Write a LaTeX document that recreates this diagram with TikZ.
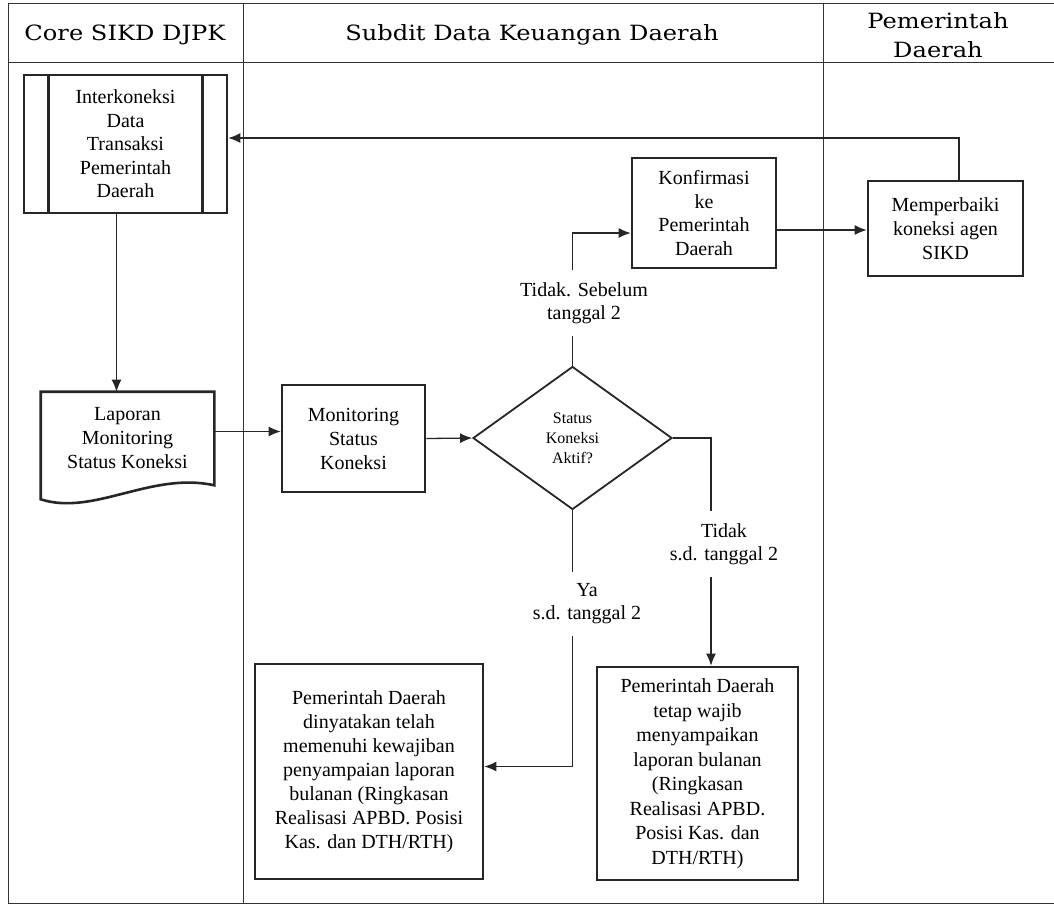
\documentclass[tikz,border=0pt]{standalone}
\usepackage{fontspec}
\setmainfont{Liberation Serif}
\newfontfamily\headfont[FakeStretch=1.15]{DejaVu Serif}
\usetikzlibrary{arrows.meta,shapes.geometric}

\begin{document}
\begin{tikzpicture}[x=1pt,y=-1pt,>={Latex[length=12pt,width=10pt]},
  lane/.style={line width=1pt,black!80},
  flow/.style={line width=1.3pt,black!85},
  box/.style={draw=black!85,line width=2.6pt,align=center,inner sep=0pt,font=\fontsize{20}{24}\selectfont},
  dia/.style={diamond,draw=black!85,line width=1.8pt,align=center,inner sep=0pt,font=\fontsize{16}{20}\selectfont},
  lbl/.style={align=center,inner xsep=0pt,inner ysep=12pt,font=\fontsize{20}{23}\selectfont},
  hdr/.style={align=center,font=\headfont\fontsize{21}{29}\selectfont}]
\useasboundingbox (0,0) rectangle (1054,906);
% lanes
\draw[lane] (1054,3) -- (8,3) -- (8,903) -- (1054,903);
\draw[lane] (8,62) -- (1054,62);
\draw[lane] (243,3) -- (243,903);
\draw[lane] (823,3) -- (823,903);
\node[hdr] (h1) at (125,35) {Core SIKD DJPK};
\node[hdr] (h2) at (532,35) {Subdit Data Keuangan Daerah};
\node[hdr] (h3) at (938,35) {Pemerintah\\Daerah};

% nodes
\node[box,minimum width=203pt,minimum height=138pt,font=\fontsize{20}{23.5}\selectfont] (inter) at (125.5,144) {Interkoneksi\\Data\\Transaksi\\Pemerintah\\Daerah};
\draw[black!85,line width=2.6pt] ([xshift=26pt]inter.north west) -- ([xshift=26pt]inter.south west);
\draw[black!85,line width=2.6pt] ([xshift=-26pt]inter.north east) -- ([xshift=-26pt]inter.south east);
\node[box,draw=none,minimum width=171pt,minimum height=91pt] (lapor) at (127.5,438.5) {Laporan\\Monitoring\\Status Koneksi};
\draw[black!85,line width=2.6pt] (lapor.south east) -- (lapor.north east) -- (lapor.north west) -- ([yshift=-14pt]lapor.south west)
  .. controls ([xshift=53pt,yshift=-31pt]lapor.south west) and ([xshift=-63pt,yshift=14pt]lapor.south east) .. (lapor.south east) -- cycle;
\node[box,minimum width=143pt,minimum height=107pt] (monit) at (353.5,438.5) {Monitoring\\Status\\Koneksi};
\node[dia,minimum width=199pt,minimum height=143pt] (dec) at (572.5,438) {Status\\Koneksi\\Aktif?};
\node[box,minimum width=144pt,minimum height=110pt,font=\fontsize{20}{23.5}\selectfont] (konf) at (704,213) {Konfirmasi\\ke\\Pemerintah\\Daerah};
\node[box,minimum width=155pt,minimum height=95pt] (perb) at (945.5,228.5) {Memperbaiki\\koneksi agen\\SIKD};
\node[box,minimum width=228pt,minimum height=215pt] (done) at (369,771.5) {Pemerintah Daerah\\dinyatakan telah\\memenuhi kewajiban\\penyampaian laporan\\bulanan (Ringkasan\\Realisasi APBD. Posisi\\Kas. dan DTH/RTH)};
\node[box,minimum width=201pt,minimum height=213pt,font=\fontsize{20}{24.5}\selectfont] (wajib) at (697.5,773.5) {Pemerintah Daerah\\tetap wajib\\menyampaikan\\laporan bulanan\\(Ringkasan\\Realisasi APBD.\\Posisi Kas. dan\\DTH/RTH)};

% labels
\node[lbl] (tdk1) at (584,303) {Tidak. Sebelum\\tanggal 2};
\node[lbl] (ya) at (587,604) {Ya\\s.d. tanggal 2};
\node[lbl] (tdk2) at (724,544) {Tidak\\s.d. tanggal 2};

% connectors
\draw[flow,->] ([xshift=-9pt]inter.south) -- ([xshift=-9pt]inter.south |- lapor.north);
\draw[flow,->] ([yshift=7pt]lapor.east) -- ([yshift=7pt]lapor.east -| monit.west);
\draw[flow,->] (monit.east) -- (dec.west);
\draw[flow] (dec.north) -- (dec.north |- tdk1.south);
\draw[flow,->] (dec.north |- tdk1.north) |- ([yshift=-20pt]konf.west);
\draw[flow,->] ([yshift=-17pt]konf.east) -- ([yshift=-17pt]konf.east -| perb.west);
\draw[flow,->] ([xshift=13.5pt]perb.north) |- ([yshift=6pt]inter.east);
\draw[flow] (dec.south) -- (dec.south |- ya.north);
\draw[flow,->] (dec.south |- ya.south) |- ([yshift=5pt]done.east);
\draw[flow] (dec.east) -| ([xshift=-13pt]tdk2.north);
\draw[flow,->] ([xshift=-13pt]tdk2.south) -- ([xshift=-13pt]tdk2.south |- wajib.north);
\end{tikzpicture}
\end{document}
